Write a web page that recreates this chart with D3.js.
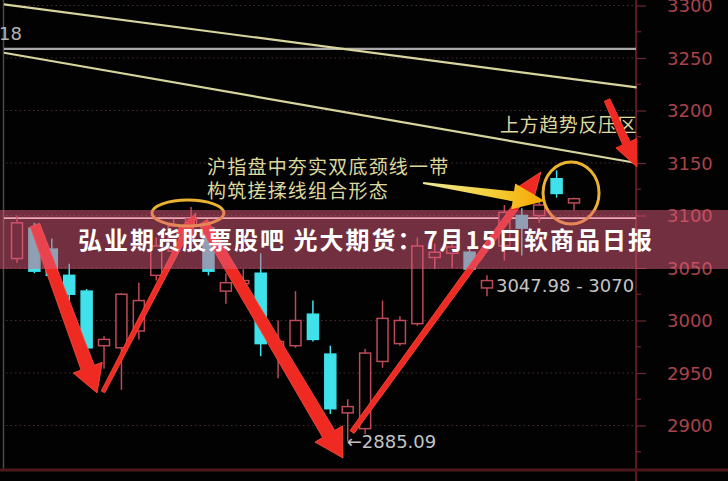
<!DOCTYPE html>
<html><head><meta charset="utf-8">
<script src="https://cdn.jsdelivr.net/npm/d3@7/dist/d3.min.js"></script>
<style>html,body{margin:0;padding:0;background:#000;overflow:hidden}</style>
</head><body><svg id="c" width="728" height="481"></svg>
<script>
// ---- data ----
const opens  = [3059,3088,3068,3043,3028,2976,2974,2990,3043,3066,3091,3088,3028,3035,3045,2976,2976,3006,2968,2912,2897,2961,2978,2997,3060,3064,3065,3031,3071,3100,3100,3135,3112];
const highs  = [3100,3093,3078,3054,3030,2985,3026,3036,3079,3097,3108,3093,3045,3049,3064,3000,3028,3019,2976,2925,2973,3019,3004,3079,3073,3076,3068,3043,3110,3107,3116,3143,3117];
const lows   = [3055,3045,3033,3019,2969,2954,2934,2982,3038,3062,3084,3043,3016,3030,2966,2945,2974,2980,2911,2885.09,2892,2955,2976,2995,3049,3050,3047,3023,3057,3062,3093,3117,3105];
const closes = [3093,3047,3043,3025,2974,2982,3025,3019,3071,3090,3097,3047,3036,3038,2978,2980,3000,2982,2916,2918,2969,3002,3000,3071,3065,3070,3049,3038,3103,3088,3110,3121,3116];
const yTicks = [2900,2950,3000,3050,3100,3150,3200,3250,3300];
const yMinorTicks = [2875,2925,2975,3025,3075,3125,3175,3225,3275];
const topLeftLabel = "18";
const lowLabel = "\u21902885.09";
const rangeLabel = "3047.98 - 3070";
const noteLines = ["沪指盘中夯实双底颈线一带", "构筑搓揉线组合形态"];
const resistNote = "上方趋势反压区";
const bannerTitle = "弘业期货股票股吧 光大期货：7月15日软商品日报";
// trend lines [index0, value0, index1, value1]
const resistLine1 = [-0.75, 3301, 35.6, 3222];
const resistLine2 = [-0.75, 3255, 35.6, 3150];
const flatLevel = 3258.6;
const necklineLevel = 3097.5;
// red arrows [i0, v0, i1, v1]
const redArrows = [
  [1.03, 3091, 4.6, 2931],
  [4.94, 2932, 10.28, 3102.4],
  [10.69, 3093.8, 18.73, 2869],
  [19.25, 2893.8, 30.1, 3141.4],
  [33.9, 3210, 35.62, 3146.2]
];
const yellowArrow = [23.33, 3131, 30.33, 3113.8];
const ellipseCenters = [[9.82, 3102.4], [31.83, 3121.4]];

// ---- drawing ----
const svg = d3.select("#c");
const W = 728, H = 481;
const plotL = 4, plotR = 636, plotB = 470;
const x = d3.scaleLinear().domain([0, 32]).range([17, 574]);
const y = d3.scaleLinear().domain([2900, 3300]).range([425.5, 5.5]);

svg.append("rect").attr("width", W).attr("height", H).attr("fill", "#020202");

// left border
svg.append("line").attr("x1", 3.5).attr("x2", 3.5).attr("y1", 0).attr("y2", plotB)
  .attr("stroke", "#4a4a4a").attr("stroke-width", 1.5);

// dotted grid
svg.append("g").selectAll("line").data(yTicks).join("line")
  .attr("x1", plotL + 2).attr("x2", plotR).attr("y1", d => y(d)).attr("y2", d => y(d))
  .attr("stroke", "#4a2c2e").attr("stroke-width", 1).attr("stroke-dasharray", "1.5,3");

// axis
const axisG = svg.append("g").attr("transform", `translate(${plotR},0)`);
axisG.call(d3.axisRight(y).tickValues(yTicks).tickSize(10).tickPadding(21).tickFormat(d3.format("d")));
axisG.select(".domain").remove();
axisG.selectAll(".tick line").attr("stroke", "#6e2a30").attr("stroke-width", 1.2);
axisG.selectAll(".tick text").attr("fill", "#a8434a").attr("font-family", "DejaVu Sans")
  .attr("font-size", 18).attr("text-anchor", "start").attr("dy", "0.36em");
axisG.selectAll(".minor").data(yMinorTicks).join("line").attr("class", "minor")
  .attr("x1", 0).attr("x2", 5).attr("y1", d => y(d)).attr("y2", d => y(d))
  .attr("stroke", "#6e2a30").attr("stroke-width", 1.2);
svg.append("line").attr("x1", plotR).attr("x2", plotR).attr("y1", 0).attr("y2", H)
  .attr("stroke", "#7a2228").attr("stroke-width", 1.5);
svg.append("line").attr("x1", 0).attr("x2", W).attr("y1", plotB).attr("y2", plotB)
  .attr("stroke", "#4e171c").attr("stroke-width", 3);

// top-left label
svg.append("text").attr("x", 22).attr("y", 34).attr("dy", "0.36em").attr("text-anchor", "end")
  .attr("font-family", "DejaVu Sans").attr("font-size", 18).attr("fill", "#b4b4b4").text(topLeftLabel);

// horizontal lines
svg.append("line").attr("x1", plotL).attr("x2", plotR).attr("y1", y(flatLevel)).attr("y2", y(flatLevel))
  .attr("stroke", "#a9a9a9").attr("stroke-width", 2.2);
svg.append("line").attr("x1", plotL).attr("x2", plotR).attr("y1", y(necklineLevel)).attr("y2", y(necklineLevel))
  .attr("stroke", "#ffeef0").attr("stroke-width", 1.8);

// trend lines
[resistLine1, resistLine2].forEach(l => {
  svg.append("line").attr("x1", x(l[0])).attr("y1", y(l[1])).attr("x2", x(l[2])).attr("y2", y(l[3]))
    .attr("stroke", "#d8d49e").attr("stroke-width", 2.2);
});

// candles
const cw = 11;
const idx = d3.range(opens.length);
const up = i => closes[i] >= opens[i];
const redC = "#bd4a58", cyanC = "#3fe2ea";
const cg = svg.append("g");
cg.selectAll("line").data(idx).join("line")
  .attr("x1", i => x(i)).attr("x2", i => x(i))
  .attr("y1", i => y(highs[i])).attr("y2", i => y(lows[i]))
  .attr("stroke", i => up(i) ? redC : cyanC).attr("stroke-width", 1.5);
cg.selectAll("rect").data(idx).join("rect")
  .attr("x", i => x(i) - cw / 2)
  .attr("y", i => y(Math.max(opens[i], closes[i])))
  .attr("width", cw)
  .attr("height", i => Math.max(2, Math.abs(y(opens[i]) - y(closes[i]))))
  .attr("fill", i => up(i) ? "#020202" : cyanC)
  .attr("stroke", i => up(i) ? redC : cyanC).attr("stroke-width", 1.5);

// arrow polygon helper
function arrowPts(x0, y0, x1, y1, w0, w1, hw, hl) {
  const dx = x1 - x0, dy = y1 - y0, L = Math.hypot(dx, dy);
  const ux = dx / L, uy = dy / L, nx = -uy, ny = ux;
  const ex = x1 - ux * hl, ey = y1 - uy * hl;
  return [
    [x0 + nx * w0 / 2, y0 + ny * w0 / 2], [ex + nx * w1 / 2, ey + ny * w1 / 2],
    [ex + nx * hw / 2, ey + ny * hw / 2], [x1, y1],
    [ex - nx * hw / 2, ey - ny * hw / 2], [ex - nx * w1 / 2, ey - ny * w1 / 2],
    [x0 - nx * w0 / 2, y0 - ny * w0 / 2]
  ];
}
const arrowStyle = [
  [10, 14, 31, 27],
  [4, 6, 18, 26],
  [10, 14, 32, 28],
  [5, 7, 20, 26],
  [6, 8, 23, 26]
];
redArrows.forEach((a, k) => {
  const s = arrowStyle[k];
  svg.append("polygon")
    .attr("points", arrowPts(x(a[0]), y(a[1]), x(a[2]), y(a[3]), s[0], s[1], s[2], s[3]).map(p => p.join(",")).join(" "))
    .attr("fill", "#ee2a22").attr("stroke", "#ff5040").attr("stroke-width", 0.8);
});

// ellipses
const ellR = [[36, 13], [28, 31]];
ellipseCenters.forEach((c, k) => {
  svg.append("ellipse").attr("cx", x(c[0])).attr("cy", y(c[1])).attr("rx", ellR[k][0]).attr("ry", ellR[k][1])
    .attr("fill", "none").attr("stroke", "#eab232").attr("stroke-width", 3);
});

// yellow arrow
const defs = svg.append("defs");
const gr = defs.append("linearGradient").attr("id", "yg").attr("gradientUnits", "userSpaceOnUse")
  .attr("x1", x(yellowArrow[0])).attr("x2", x(yellowArrow[2])).attr("y1", 0).attr("y2", 0);
gr.append("stop").attr("offset", "0").attr("stop-color", "#ecea9c");
gr.append("stop").attr("offset", "0.55").attr("stop-color", "#f4cf3a");
gr.append("stop").attr("offset", "1").attr("stop-color", "#f6a500");
svg.append("polygon")
  .attr("points", arrowPts(x(yellowArrow[0]), y(yellowArrow[1]), x(yellowArrow[2]), y(yellowArrow[3]), 2, 10, 26, 32).map(p => p.join(",")).join(" "))
  .attr("fill", "url(#yg)");

// annotation texts
const noteFont = "'Noto Sans CJK SC', 'Noto Sans CJK JP', sans-serif";
noteLines.forEach((t, k) => {
  svg.append("text").attr("x", x(10.92)).attr("y", y([3146.2, 3123.3][k])).attr("dy", "0.36em")
    .attr("font-family", noteFont).attr("font-size", 19).attr("letter-spacing", 1.2)
    .attr("fill", "#dcd89e").text(t);
});
svg.append("text").attr("x", x(27.75)).attr("y", y(3186.2)).attr("dy", "0.36em")
  .attr("font-family", noteFont).attr("font-size", 19).attr("letter-spacing", 0.6)
  .attr("fill", "#dcd89e").text(resistNote);
// redraw small right arrow above the note so it covers the last glyph
{
  const a = redArrows[4], s = arrowStyle[4];
  svg.append("polygon")
    .attr("points", arrowPts(x(a[0]), y(a[1]), x(a[2]), y(a[3]), s[0], s[1], s[2], s[3]).map(p => p.join(",")).join(" "))
    .attr("fill", "#ee2a22");
}

svg.append("text").attr("x", x(19.0) - 1).attr("y", y(2885.09)).attr("dy", "0.36em")
  .attr("font-family", "DejaVu Sans").attr("font-size", 18).attr("fill", "#c4c4c4").text(lowLabel);
svg.append("text").attr("x", x(27) + 9).attr("y", y((opens[27] + closes[27]) / 2) + 1).attr("dy", "0.36em")
  .attr("font-family", "DejaVu Sans").attr("font-size", 18).attr("fill", "#c4c4c4").text(rangeLabel);

// banner overlay
svg.append("rect").attr("x", 0).attr("y", 210).attr("width", W).attr("height", 59)
  .attr("fill", "rgb(226,92,124)").attr("opacity", 0.5);
svg.append("text").attr("x", 78).attr("y", 240).attr("dy", "0.36em")
  .attr("font-family", noteFont).attr("font-weight", "bold").attr("font-size", 24).attr("letter-spacing", 2)
  .attr("fill", "#ffffff").text(bannerTitle);
</script></body></html>
